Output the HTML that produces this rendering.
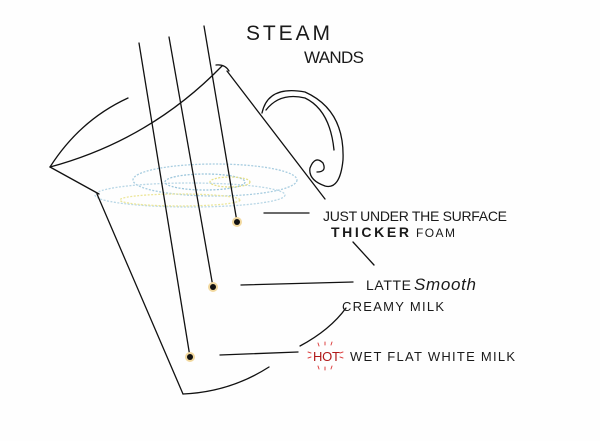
<!DOCTYPE html>
<html><head><style>
html,body{margin:0;padding:0;background:#fff;}
svg{display:block;}
text{font-family:"Liberation Sans",sans-serif;fill:#1a1a1a;}
</style></head><body>
<svg width="600" height="441" viewBox="0 0 600 441" xmlns="http://www.w3.org/2000/svg">
<rect width="600" height="441" fill="#fefefe"/>
<g fill="none" stroke-dasharray="2 1.5" stroke-width="1.3">
<ellipse cx="215" cy="180" rx="82" ry="16" stroke="#a8cde0"/>
<ellipse cx="190" cy="195" rx="95" ry="12" stroke="#b9d7e6"/>
<ellipse cx="205" cy="182" rx="40" ry="8" stroke="#9cc6dc"/>
<ellipse cx="230" cy="182" rx="20" ry="5" stroke="#e6e08a"/>
<ellipse cx="180" cy="200" rx="60" ry="6" stroke="#ece69a"/>
</g>
<g fill="none" stroke="#111" stroke-width="1.3" stroke-linecap="round">
<path d="M128,98 Q80,120 50,167"/>
<path d="M50,167 Q150,140 222,66"/>
<path d="M216,65 Q225,64 229,71"/>
<path d="M227,71 L325,199"/>
<path d="M50,167 Q70,178 99,194"/>
<path d="M97,194 L183,394"/>
<path d="M183,394 Q230,392 269,367"/>
<path d="M300,346 Q330,330 346,308"/>
<path d="M262,113 Q268,85 305,92 Q345,110 343,160 Q340,190 325,186 Q308,180 310,168 Q315,155 323,163 Q327,172 317,172"/>
<path d="M266,110 Q280,92 305,98 Q330,110 334,150"/>
<path d="M139,43 L190,357"/>
<path d="M169,37 L213,287"/>
<path d="M204,26 L237,222"/>
<path d="M264,213 L309,213"/>
<path d="M241,285 L353,282"/>
<path d="M220,355 L298,352"/>
<path d="M353,242 L374,265"/>
</g>
<g>
<circle cx="237" cy="222" r="5" fill="#f2d9a0"/><circle cx="237" cy="222" r="3" fill="#111"/>
<circle cx="213" cy="287" r="5" fill="#f2d9a0"/><circle cx="213" cy="287" r="3" fill="#111"/>
<circle cx="190" cy="357" r="5" fill="#f2d9a0"/><circle cx="190" cy="357" r="3" fill="#111"/>
</g>
<text x="246" y="40" font-size="21" textLength="84">STEAM</text>
<text x="304" y="63" font-size="17" textLength="60">WANDS</text>
<text x="323" y="221" font-size="14" textLength="184">JUST UNDER THE SURFACE</text>
<text x="331" y="237" font-size="14" font-weight="bold" textLength="78">THICKER</text>
<text x="416" y="237" font-size="12" textLength="39">FOAM</text>
<text x="366" y="290" font-size="14" textLength="45">LATTE</text>
<text x="414" y="290" font-size="17" font-style="italic" font-family="Liberation Serif" textLength="62">Smooth</text>
<text x="342" y="311" font-size="13" textLength="102">CREAMY MILK</text>
<text x="313" y="361" font-size="13" style="fill:#b01818" textLength="27">HOT</text>
<text x="350" y="361" font-size="13" textLength="165">WET FLAT WHITE MILK</text>
<g stroke="#d44" stroke-width="1" fill="none" stroke-linecap="round">
<path d="M318,343 L319,346 M325,342 L325,345 M332,342 L331,345 M308,352 L311,353 M308,358 L311,357 M343,352 L340,353 M343,358 L340,357 M318,366 L319,369 M325,367 L325,370 M332,366 L331,369"/>
</g>
</svg>
</body></html>
